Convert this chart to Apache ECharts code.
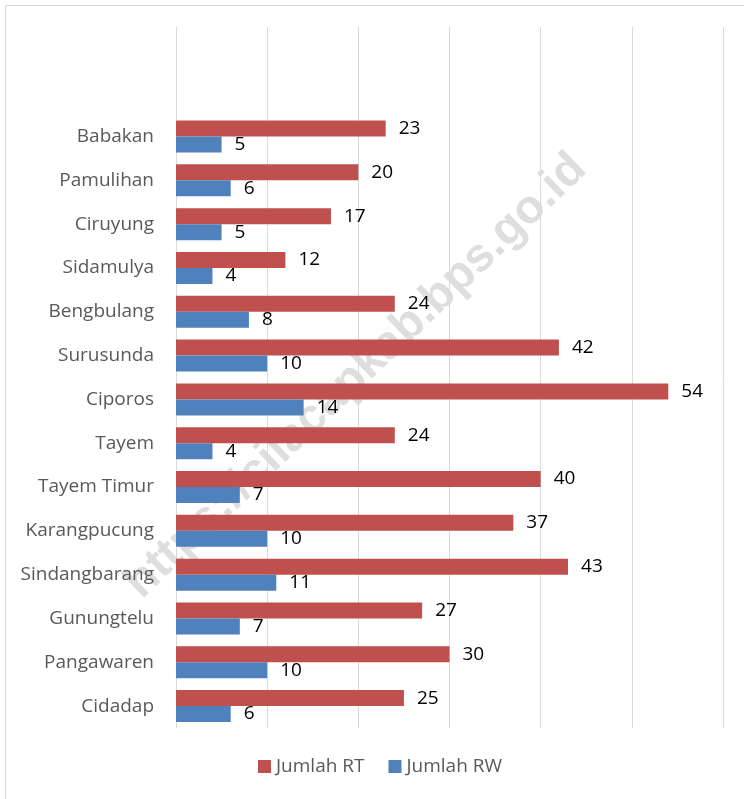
<!DOCTYPE html>
<html>
<head>
<meta charset="utf-8">
<script src="https://cdn.jsdelivr.net/npm/echarts@6/dist/echarts.min.js"></script>
<style>
html, body { margin: 0; padding: 0; background: #fff; }
#chart { width: 744px; height: 799px; }
</style>
</head>
<body>
<div id="chart"></div>
<script>
var desa = ['Babakan', 'Pamulihan', 'Ciruyung', 'Sidamulya', 'Bengbulang', 'Surusunda', 'Ciporos',
	'Tayem', 'Tayem Timur', 'Karangpucung', 'Sindangbarang', 'Gunungtelu', 'Pangawaren', 'Cidadap'];
var jumlahRT = [23, 20, 17, 12, 24, 42, 54, 24, 40, 37, 43, 27, 30, 25];
var jumlahRW = [5, 6, 5, 4, 8, 10, 14, 4, 7, 10, 11, 7, 10, 6];

// the original chart leaves two empty rows above Babakan
var kosong = ['', ''];
var kategori = kosong.concat(desa);
var dataRT = ['-', '-'].concat(jumlahRT);
var dataRW = ['-', '-'].concat(jumlahRW);

var chart = echarts.init(document.getElementById('chart'));

var labelFont = '"Open Sans", Lato, sans-serif';

var option = {
	animation : false,
	backgroundColor : '#fff',
	graphic : [ {
		type : 'rect',
		left : 3,
		top : 3,
		shape : { width : 745, height : 800 },
		style : { fill : 'none', stroke : '#d9d9d9', lineWidth : 1 },
		silent : true
	}, {
		type : 'text',
		x : 356,
		y : 376,
		rotation : 0.765,
		z : -10,
		style : {
			text : 'https://cilacapkab.bps.go.id',
			fill : '#dedede',
			font : 'bold 47px "Liberation Sans", Arial, sans-serif',
			align : 'center',
			verticalAlign : 'middle'
		},
		silent : true
	} ],
	grid : {
		left : 176,
		right : 21,
		top : 27,
		bottom : 71,
		containLabel : false
	},
	legend : {
		bottom : 18,
		left : 253,
		itemWidth : 13,
		itemHeight : 13,
		itemGap : 24,
		icon : 'rect',
		textStyle : { color : '#595959', fontSize : 19, fontFamily : labelFont },
		data : [ 'Jumlah RT', 'Jumlah RW' ]
	},
	xAxis : {
		type : 'value',
		min : 0,
		max : 60,
		interval : 10,
		axisLabel : { show : false },
		axisLine : { show : false },
		axisTick : { show : false },
		splitLine : { lineStyle : { color : '#d9d9d9', width : 1 } }
	},
	yAxis : {
		type : 'category',
		data : kategori,
		inverse : true,
		axisLine : { show : false },
		axisTick : { show : false },
		axisLabel : { color : '#595959', fontSize : 19, fontFamily : labelFont, margin : 22 }
	},
	series : [ {
		name : 'Jumlah RT',
		type : 'bar',
		data : dataRT,
		barGap : '0%',
		barCategoryGap : '27%',
		itemStyle : { color : '#c0504d' },
		label : { show : true, position : 'right', distance : 13, color : '#000', fontSize : 19, fontFamily : labelFont }
	}, {
		name : 'Jumlah RW',
		type : 'bar',
		data : dataRW,
		barGap : '0%',
		barCategoryGap : '27%',
		itemStyle : { color : '#4f81bd' },
		label : { show : true, position : 'right', distance : 13, color : '#000', fontSize : 19, fontFamily : labelFont }
	} ]
};

chart.setOption(option);
</script>
</body>
</html>
